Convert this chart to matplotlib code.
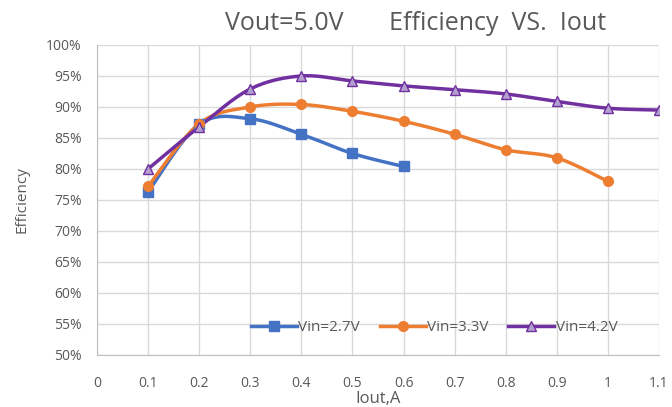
import numpy as np
import matplotlib
matplotlib.use("Agg")
import matplotlib.pyplot as plt

plt.rcParams['font.family'] = ['Open Sans', 'DejaVu Sans']

iout_27 = [0.1, 0.2, 0.3, 0.4, 0.5, 0.6]
eff_27 = [76.3, 87.2, 88.1, 85.6, 82.5, 80.4]

iout_33 = [0.1, 0.2, 0.3, 0.4, 0.5, 0.6, 0.7, 0.8, 0.9, 1.0]
eff_33 = [77.2, 87.3, 90.0, 90.4, 89.3, 87.7, 85.6, 83.1, 81.8, 78.0]

iout_42 = [0.1, 0.2, 0.3, 0.4, 0.5, 0.6, 0.7, 0.8, 0.9, 1.0, 1.1]
eff_42 = [80.0, 86.8, 92.9, 95.0, 94.2, 93.4, 92.8, 92.1, 90.9, 89.8, 89.5]

labels = ['Vin=2.7V', 'Vin=3.3V', 'Vin=4.2V']
gray = '#595959'
grid_c = '#d9d9d9'


def smooth(x, y, n=30):
    # catmull-rom style curve like excel's "smoothed line"
    x = np.asarray(x, float)
    y = np.asarray(y, float)
    px = np.concatenate([[x[0]], x, [x[-1]]])
    py = np.concatenate([[y[0]], y, [y[-1]]])
    xs, ys = [], []
    t = np.linspace(0, 1, n)
    for i in range(1, len(px) - 2):
        p0x, p1x, p2x, p3x = px[i - 1], px[i], px[i + 1], px[i + 2]
        p0y, p1y, p2y, p3y = py[i - 1], py[i], py[i + 1], py[i + 2]
        c1x = p1x + (p2x - p0x) / 6
        c1y = p1y + (p2y - p0y) / 6
        c2x = p2x - (p3x - p1x) / 6
        c2y = p2y - (p3y - p1y) / 6
        bx = (1 - t) ** 3 * p1x + 3 * (1 - t) ** 2 * t * c1x + 3 * (1 - t) * t ** 2 * c2x + t ** 3 * p2x
        by = (1 - t) ** 3 * p1y + 3 * (1 - t) ** 2 * t * c1y + 3 * (1 - t) * t ** 2 * c2y + t ** 3 * p2y
        xs.extend(bx)
        ys.extend(by)
    return np.array(xs), np.array(ys)


fig = plt.figure(figsize=(6.72, 4.07), dpi=100)
ax = fig.add_axes([0.1443, 0.1278, 0.8363, 0.7617])

series = [
    (iout_27, eff_27, '#4472C4', 's', '#4472C4', '#4472C4'),
    (iout_33, eff_33, '#ED7D31', 'o', '#ED7D31', '#ED7D31'),
    (iout_42, eff_42, '#7030A0', '^', '#B4A0D0', '#7030A0'),
]
handles = []
for (xv, yv, c, m, fc, ec), lab in zip(series, labels):
    sx, sy = smooth(xv, yv)
    ax.plot(sx, sy, color=c, lw=2.5, solid_capstyle='round', zorder=3)
    ax.plot(xv, yv, ls='none', marker=m, ms=7, mfc=fc, mec=ec, mew=1, zorder=4)
    h, = ax.plot([], [], color=c, lw=2.5, marker=m, ms=7, mfc=fc, mec=ec, mew=1)
    handles.append(h)

ax.set_xlim(0, 1.1)
ax.set_ylim(50, 100)
ax.set_xticks(np.arange(0, 1.11, 0.1))
ax.set_xticklabels(['0', '0.1', '0.2', '0.3', '0.4', '0.5', '0.6', '0.7', '0.8', '0.9', '1', '1.1'])
ax.set_yticks(np.arange(50, 101, 5))
ax.set_yticklabels([f'{v}%' for v in range(50, 101, 5)])
ax.grid(True, color=grid_c, lw=1)
ax.set_axisbelow(True)
for s in ['top', 'right']:
    ax.spines[s].set_visible(False)
for s in ['left', 'bottom']:
    ax.spines[s].set_color('#bfbfbf')
ax.tick_params(length=0, colors=gray, labelsize=10)
ax.tick_params(axis='x', pad=15)
ax.tick_params(axis='y', pad=11)

ax.set_xlabel('Iout,A', color=gray, fontsize=12, labelpad=0)
ax.set_ylabel('Efficiency', color=gray, fontsize=11, labelpad=12)

fig.text(0.618, 0.942, 'Vout=5.0V       Efficiency  VS.  Iout', ha='center', va='center',
         color=gray, fontsize=18)

ax.legend(handles, labels, loc='lower center', bbox_to_anchor=(0.6, 0.02), ncol=3,
          frameon=False, fontsize=11, labelcolor=gray, handlelength=3.0,
          handletextpad=0.1, columnspacing=1.3)

fig.savefig('out.png', dpi=100)
